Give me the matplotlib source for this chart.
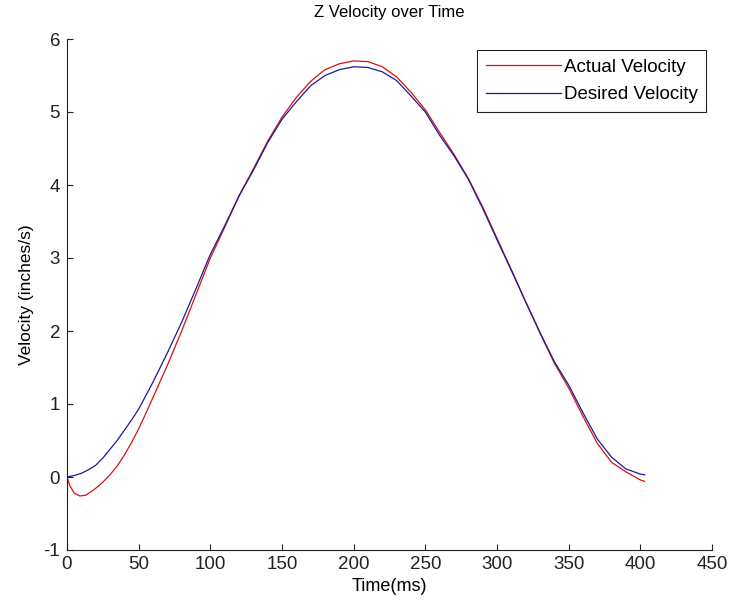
import matplotlib
matplotlib.use("Agg")
import matplotlib.pyplot as plt
import numpy as np

plt.rcParams['font.family'] = ['Liberation Sans', 'DejaVu Sans']
plt.rcParams['axes.unicode_minus'] = False

# values (time in ms, velocity in inches/s)
t_desired = [0, 5, 10, 15, 20, 25, 30, 35, 40, 45, 50, 60, 70, 80, 90, 100,
             110, 120, 130, 140, 150, 160, 170, 180, 190, 200, 210, 220, 230,
             240, 250, 260, 270, 280, 290, 300, 310, 320, 330, 340, 350, 360,
             370, 380, 390, 400, 403]
v_desired = [0.0, 0.02, 0.05, 0.10, 0.16, 0.26, 0.38, 0.50, 0.64, 0.78, 0.93,
             1.30, 1.70, 2.12, 2.58, 3.05, 3.44, 3.85, 4.20, 4.58, 4.90, 5.14,
             5.36, 5.50, 5.58, 5.62, 5.61, 5.55, 5.43, 5.22, 5.00, 4.68, 4.40,
             4.08, 3.68, 3.25, 2.83, 2.40, 1.98, 1.58, 1.26, 0.88, 0.52, 0.27,
             0.11, 0.04, 0.03]

t_actual = [0, 2, 5, 9, 13, 17, 21, 25, 30, 35, 40, 45, 50, 55, 60, 70, 80,
            90, 100, 110, 120, 130, 140, 150, 160, 170, 180, 190, 200, 210,
            220, 230, 240, 250, 260, 270, 280, 290, 300, 310, 320, 330, 340,
            350, 360, 370, 380, 390, 400, 403]
v_actual = [0.0, -0.12, -0.22, -0.26, -0.25, -0.20, -0.14, -0.07, 0.03, 0.15,
            0.30, 0.47, 0.66, 0.87, 1.09, 1.53, 2.00, 2.50, 3.00, 3.42, 3.85,
            4.22, 4.60, 4.93, 5.20, 5.42, 5.58, 5.66, 5.70, 5.69, 5.62, 5.48,
            5.27, 5.03, 4.72, 4.42, 4.09, 3.70, 3.27, 2.84, 2.40, 1.97, 1.56,
            1.22, 0.83, 0.46, 0.20, 0.07, -0.04, -0.06]

x_ticks = [0, 50, 100, 150, 200, 250, 300, 350, 400, 450]
y_ticks = [-1, 0, 1, 2, 3, 4, 5, 6]

fig = plt.figure(figsize=(7.32, 6.09), dpi=100)
ax = fig.add_axes([67 / 732, 59 / 609, 645 / 732, 511 / 609])

ax.plot(t_actual, v_actual, color='#d81010', lw=0.9, label='Actual Velocity')
ax.plot(t_desired, v_desired, color='#1a1a9c', lw=0.9, label='Desired Velocity')

ax.set_xlim(0, 450)
ax.set_ylim(-1, 6)
ax.set_xticks(x_ticks)
ax.set_yticks(y_ticks)
ax.tick_params(direction='in', length=4.5, width=0.8, labelsize=13.5,
               pad=4, colors='#222222')
ax.tick_params(axis='y', pad=5)
ax.spines['top'].set_visible(False)
ax.spines['right'].set_visible(False)
ax.spines['left'].set_color('#222222')
ax.spines['bottom'].set_color('#222222')

ax.set_title('Z Velocity over Time', fontsize=12, pad=16)
ax.set_xlabel('Time(ms)', fontsize=13, labelpad=4)
ax.set_ylabel('Velocity (inches/s)', fontsize=12.5, labelpad=7)

leg = ax.legend(loc='upper right', bbox_to_anchor=(0.9907, 0.978),
                fontsize=13.5, handlelength=4.0,
                handletextpad=0.15, labelspacing=0.55, borderpad=0.45,
                borderaxespad=0, fancybox=False, framealpha=1)
leg.get_frame().set_edgecolor('#222222')
leg.get_frame().set_linewidth(0.8)

fig.savefig('out.png', dpi=100, facecolor='white')
